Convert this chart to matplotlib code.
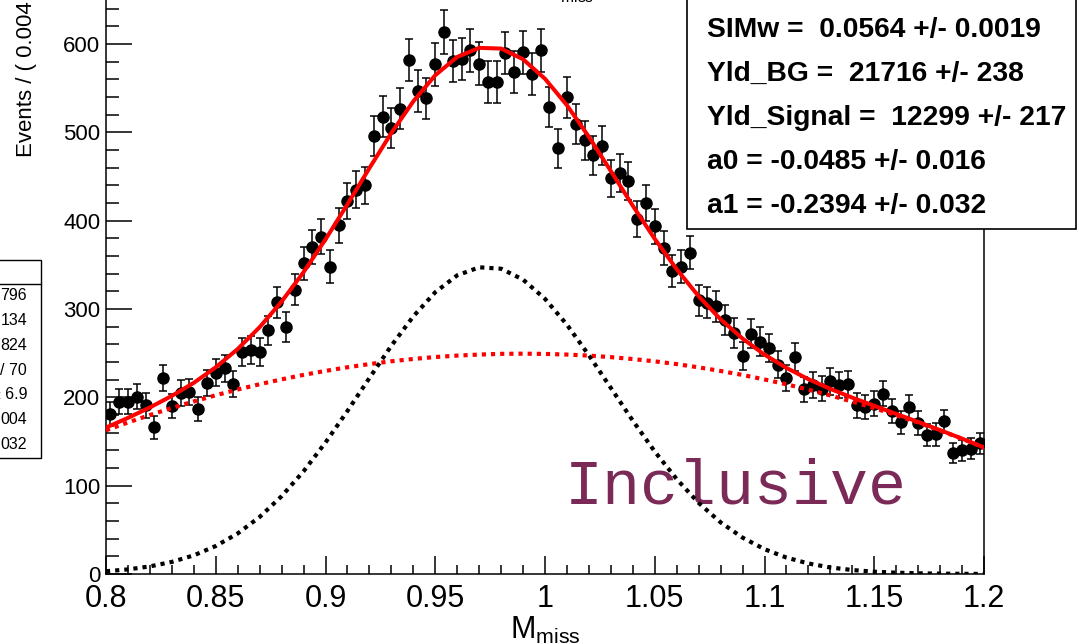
import numpy as np
import matplotlib
matplotlib.use('Agg')
import matplotlib.pyplot as plt
from matplotlib.patches import Rectangle
from matplotlib.lines import Line2D

plt.rcParams['font.family'] = ['Liberation Sans', 'DejaVu Sans']

# histogram: 100 bins of 0.004 between 0.8 and 1.2
edges = np.linspace(0.8, 1.2, 101)
counts = [181, 195, 195, 201, 191, 166, 222, 190, 205, 206,
          187, 216, 228, 233, 215, 251, 254, 251, 276, 308,
          280, 322, 352, 370, 382, 348, 395, 422, 435, 440,
          496, 518, 505, 527, 582, 547, 539, 577, 614, 581,
          583, 593, 578, 557, 557, 590, 568, 591, 566, 593,
          529, 482, 540, 510, 491, 474, 485, 448, 454, 445,
          402, 420, 394, 369, 343, 348, 364, 310, 307, 303,
          288, 273, 247, 272, 263, 256, 237, 222, 246, 209,
          214, 210, 218, 214, 215, 191, 189, 193, 204, 185,
          172, 189, 171, 157, 158, 173, 137, 140, 142, 148]

# fit components read every 0.01 in M_miss
curve_x = np.linspace(0.8, 1.2, 41)
signal = [3.1, 5.2, 8.6, 13.7, 21.1, 31.7, 45.9, 64.6, 88.1, 116.3,
          148.9, 184.6, 221.9, 258.5, 291.7, 319.1, 338.2, 347.3, 345.7, 333.4,
          311.6, 282.3, 247.7, 210.7, 173.6, 138.7, 107.4, 80.5, 58.5, 41.2,
          28.1, 18.6, 11.9, 7.4, 4.5, 2.6, 1.5, 0.8, 0.4, 0.2, 0.1]
background = [162.7, 171.6, 180.0, 188.0, 195.4, 202.4, 208.9, 214.9, 220.4, 225.5,
              230.0, 234.1, 237.7, 240.9, 243.5, 245.7, 247.3, 248.5, 249.3, 249.5,
              249.2, 248.5, 247.3, 245.6, 243.4, 240.8, 237.7, 234.0, 229.9, 225.4,
              220.3, 214.8, 208.7, 202.2, 195.2, 187.8, 179.8, 171.4, 162.5, 153.1, 143.2]

fit_lines = ['SIMw =  0.0564 +/- 0.0019',
             'Yld_BG =  21716 +/- 238',
             'Yld_Signal =  12299 +/- 217',
             'a0 = -0.0485 +/- 0.016',
             'a1 = -0.2394 +/- 0.032']
left_box_lines = ['796', '134', '824', '/ 70', '\u00b1 6.9', '004', '032']

counts = np.array(counts, dtype=float)
centers = 0.5 * (edges[:-1] + edges[1:])
total = np.array(signal) + np.array(background)

W, H = 1079, 644
fig = plt.figure(figsize=(W / 100, H / 100), dpi=100)
ax = fig.add_axes([106 / W, 70 / H, 878 / W, 574 / H])

ax.errorbar(centers, counts, yerr=np.sqrt(counts), fmt='o', color='black',
            ms=8, elinewidth=1.1, capsize=3, capthick=1.1, zorder=3)
ax.plot(curve_x, background, color='red', lw=3, dashes=(1, 1.2), zorder=4)
ax.plot(curve_x, signal, color='black', lw=3, dashes=(1, 1.2), zorder=4)
ax.plot(curve_x, total, color='red', lw=2.9, zorder=5)

ax.set_xlim(0.8, 1.2)
ax.set_ylim(0, 650)
ax.set_xticks([0.8, 0.85, 0.9, 0.95, 1.0, 1.05, 1.1, 1.15, 1.2])
ax.set_xticklabels(['0.8', '0.85', '0.9', '0.95', '1', '1.05', '1.1', '1.15', '1.2'])
ax.set_xticks(np.linspace(0.8, 1.2, 41), minor=True)
ax.set_yticks([0, 100, 200, 300, 400, 500, 600])
ax.set_yticks(np.arange(0, 660, 20), minor=True)
ax.tick_params(axis='x', which='major', direction='in', length=13, width=1.1, labelsize=22, pad=7)
ax.tick_params(axis='x', which='minor', direction='in', length=6.5, width=1.1)
ax.tick_params(axis='y', which='major', direction='in', length=19, width=1.1, labelsize=16, pad=4)
ax.tick_params(axis='y', which='minor', direction='in', length=9.5, width=1.1)
ax.spines['top'].set_visible(False)
for s in ['left', 'bottom', 'right']:
    ax.spines[s].set_linewidth(1.1)

ax.set_xlabel(r'$\mathregular{M_{miss}}$', fontsize=22, labelpad=1)

# y title, cut at the top of the canvas
fig.text(27 / W, 1 - 157 / H, 'Events / ( 0.004 )', rotation=90,
         ha='center', va='bottom', fontsize=16)
# title, mostly outside the canvas
fig.text(568 / W, 1 - 5 / H, r'$\mathregular{M_{miss}}$', ha='center', va='bottom', fontsize=16)

ax.text(565, H - 503, 'Inclusive', transform=None, fontsize=45.5,
        family='Liberation Mono', color='#7b2a57', va='baseline', ha='left')

# fit parameter box (top right)
fig.add_artist(Rectangle((687 / W, 1 - 229 / H), 389 / W, 0.5, transform=fig.transFigure,
                         facecolor='white', edgecolor='black', lw=1.2, zorder=10))
for i, line in enumerate(fit_lines):
    fig.text(707 / W, 1 - (30 + 44 * i) / H, line, fontsize=20.3, fontweight='bold',
             va='center', ha='left', zorder=11)

# stats box of a neighbouring pad, cut at the left
fig.add_artist(Rectangle((-10 / W, 1 - 458 / H), 51 / W, 198 / H, transform=fig.transFigure,
                         facecolor='white', edgecolor='black', lw=1.0, zorder=10))
fig.add_artist(Line2D([0, 41 / W], [1 - 284 / H, 1 - 284 / H], transform=fig.transFigure,
                      color='black', lw=1.0, zorder=11))
for i, line in enumerate(left_box_lines):
    fig.text(27 / W, 1 - (296 + 24.7 * i) / H, line, fontsize=11.5, va='center', ha='right', zorder=11)

fig.savefig('out.png', dpi=100)
